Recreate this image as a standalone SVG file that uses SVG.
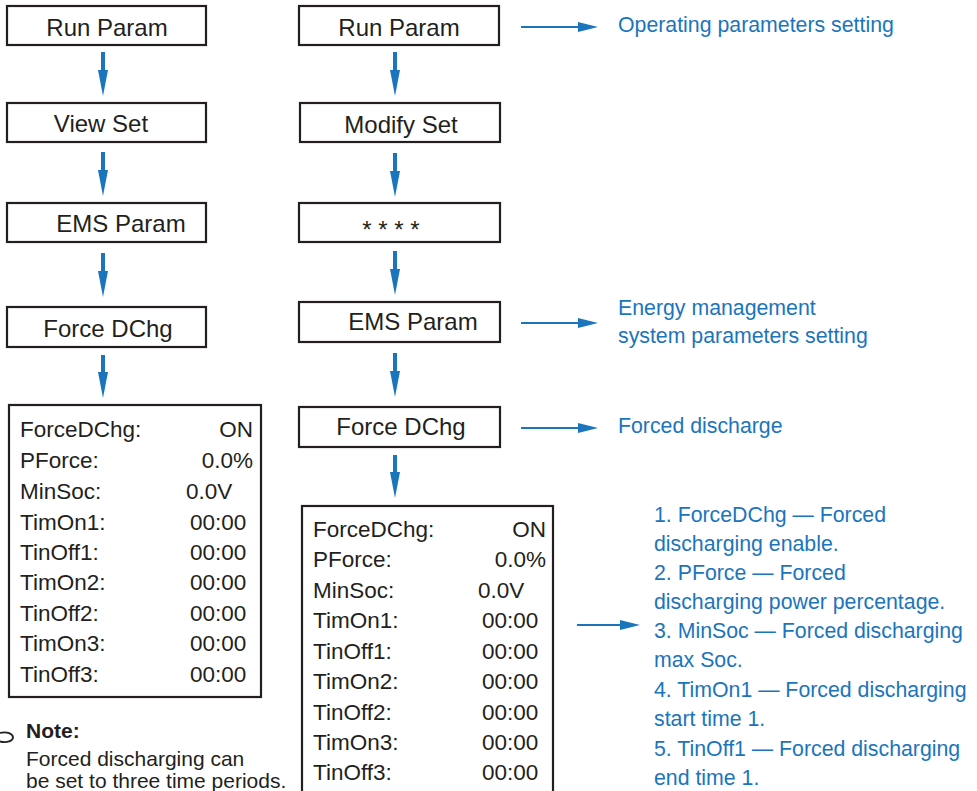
<svg xmlns="http://www.w3.org/2000/svg" width="977" height="791" viewBox="0 0 977 791">
<style>
.box{fill:#fff;stroke:#231f20;stroke-width:2.2}
.lbl{font-family:"Liberation Sans",Arial,sans-serif;font-size:24px;fill:#231f20;text-anchor:middle}
.row{font-family:"Liberation Sans",Arial,sans-serif;font-size:22.5px;fill:#231f20}
.end{text-anchor:end}
.note{font-family:"Liberation Sans",Arial,sans-serif;font-size:21.3px;fill:#1b75bc}
.dark{font-family:"Liberation Sans",Arial,sans-serif;font-size:21px;fill:#231f20}
.vsh{stroke:#1b75bc;stroke-width:4;fill:none}
.hsh{stroke:#1b75bc;stroke-width:2;fill:none}
</style>
<defs>
<marker id="vh" viewBox="0 0 26 10" refX="0" refY="5" markerWidth="26" markerHeight="10" markerUnits="userSpaceOnUse" orient="auto"><path d="M0,0 L26,5 L0,10 Z" fill="#1b75bc"/></marker>
<marker id="hh" viewBox="0 0 20 10" refX="0" refY="5" markerWidth="20" markerHeight="10" markerUnits="userSpaceOnUse" orient="auto"><path d="M0,0 L20,5 L0,10 Z" fill="#1b75bc"/></marker>
</defs>
<rect width="977" height="791" fill="#fff"/>

<g id="connectors">
<line class="vsh" x1="103" y1="52" x2="103" y2="70" marker-end="url(#vh)"/>
<line class="vsh" x1="103" y1="152" x2="103" y2="170" marker-end="url(#vh)"/>
<line class="vsh" x1="103" y1="253" x2="103" y2="271" marker-end="url(#vh)"/>
<line class="vsh" x1="103" y1="355" x2="103" y2="372" marker-end="url(#vh)"/>
<line class="vsh" x1="395" y1="52" x2="395" y2="70" marker-end="url(#vh)"/>
<line class="vsh" x1="395" y1="153" x2="395" y2="171" marker-end="url(#vh)"/>
<line class="vsh" x1="395" y1="251" x2="395" y2="269" marker-end="url(#vh)"/>
<line class="vsh" x1="395" y1="353" x2="395" y2="371" marker-end="url(#vh)"/>
<line class="vsh" x1="395" y1="455" x2="395" y2="472" marker-end="url(#vh)"/>
<line class="hsh" x1="521" y1="27" x2="578" y2="27" marker-end="url(#hh)"/>
<line class="hsh" x1="521" y1="323" x2="578" y2="323" marker-end="url(#hh)"/>
<line class="hsh" x1="521" y1="428" x2="578" y2="428" marker-end="url(#hh)"/>
<line class="hsh" x1="577" y1="625" x2="620" y2="625" marker-end="url(#hh)"/>
</g>

<g id="l-runparam"><rect class="box" x="7" y="6" width="199" height="39"/><text class="lbl" x="107" y="36">Run Param</text></g>
<g id="l-viewset"><rect class="box" x="7" y="103" width="199" height="39"/><text class="lbl" x="101" y="132">View Set</text></g>
<g id="l-emsparam"><rect class="box" x="7" y="203" width="199" height="39"/><text class="lbl" x="121" y="232">EMS Param</text></g>
<g id="l-forcedchg"><rect class="box" x="7" y="307" width="199" height="40"/><text class="lbl" x="108" y="337">Force DChg</text></g>
<g id="l-data">
<rect class="box" x="9" y="405" width="252" height="292"/>
<text class="row" x="20" y="437">ForceDChg:</text><text class="row end" x="253" y="437">ON</text>
<text class="row" x="20" y="468">PForce:</text><text class="row end" x="253" y="468">0.0%</text>
<text class="row" x="20" y="499">MinSoc:</text><text class="row" x="186" y="499">0.0V</text>
<text class="row" x="20" y="530">TimOn1:</text><text class="row" x="190" y="530">00:00</text>
<text class="row" x="20" y="560">TinOff1:</text><text class="row" x="190" y="560">00:00</text>
<text class="row" x="20" y="590">TimOn2:</text><text class="row" x="190" y="590">00:00</text>
<text class="row" x="20" y="621">TinOff2:</text><text class="row" x="190" y="621">00:00</text>
<text class="row" x="20" y="651">TimOn3:</text><text class="row" x="190" y="651">00:00</text>
<text class="row" x="20" y="682">TinOff3:</text><text class="row" x="190" y="682">00:00</text>
</g>

<g id="r-runparam"><rect class="box" x="299" y="6" width="200" height="39"/><text class="lbl" x="399" y="36">Run Param</text></g>
<g id="r-modifyset"><rect class="box" x="300" y="103" width="200" height="39"/><text class="lbl" x="401" y="133">Modify Set</text></g>
<g id="r-password"><rect class="box" x="299" y="203" width="201" height="39"/><text class="lbl" x="391" y="238">* * * *</text></g>
<g id="r-emsparam"><rect class="box" x="299" y="302" width="201" height="40"/><text class="lbl" x="413" y="330">EMS Param</text></g>
<g id="r-forcedchg"><rect class="box" x="299" y="407" width="201" height="40"/><text class="lbl" x="401" y="435">Force DChg</text></g>
<g id="r-data">
<rect class="box" x="302" y="506" width="251" height="310"/>
<text class="row" x="313" y="537">ForceDChg:</text><text class="row end" x="546" y="537">ON</text>
<text class="row" x="313" y="567">PForce:</text><text class="row end" x="546" y="567">0.0%</text>
<text class="row" x="313" y="598">MinSoc:</text><text class="row" x="478" y="598">0.0V</text>
<text class="row" x="313" y="628">TimOn1:</text><text class="row" x="482" y="628">00:00</text>
<text class="row" x="313" y="659">TinOff1:</text><text class="row" x="482" y="659">00:00</text>
<text class="row" x="313" y="689">TimOn2:</text><text class="row" x="482" y="689">00:00</text>
<text class="row" x="313" y="720">TinOff2:</text><text class="row" x="482" y="720">00:00</text>
<text class="row" x="313" y="750">TimOn3:</text><text class="row" x="482" y="750">00:00</text>
<text class="row" x="313" y="780">TinOff3:</text><text class="row" x="482" y="780">00:00</text>
</g>

<g id="desc-run"><text class="note" x="618" y="32">Operating parameters setting</text></g>
<g id="desc-ems"><text class="note" x="618" y="315">Energy management</text><text class="note" x="618" y="343">system parameters setting</text></g>
<g id="desc-force"><text class="note" x="618" y="433">Forced discharge</text></g>
<g id="desc-list">
<text class="note" x="654" y="522">1. ForceDChg — Forced</text>
<text class="note" x="654" y="551">discharging enable.</text>
<text class="note" x="654" y="580">2. PForce — Forced</text>
<text class="note" x="654" y="609">discharging power percentage.</text>
<text class="note" x="654" y="638">3. MinSoc — Forced discharging</text>
<text class="note" x="654" y="667">max Soc.</text>
<text class="note" x="654" y="697">4. TimOn1 — Forced discharging</text>
<text class="note" x="654" y="726">start time 1.</text>
<text class="note" x="654" y="756">5. TinOff1 — Forced discharging</text>
<text class="note" x="654" y="785">end time 1.</text>
</g>

<g id="note">
<path d="M0,733 C7,731 13,734 13,737.5 C13,741 7,743 0,741.5" fill="none" stroke="#231f20" stroke-width="1.8"/>
<text class="dark" x="26" y="738" font-weight="bold">Note:</text>
<text class="dark" x="26" y="766">Forced discharging can</text>
<text class="dark" x="26" y="788">be set to three time periods.</text>
</g>
</svg>
